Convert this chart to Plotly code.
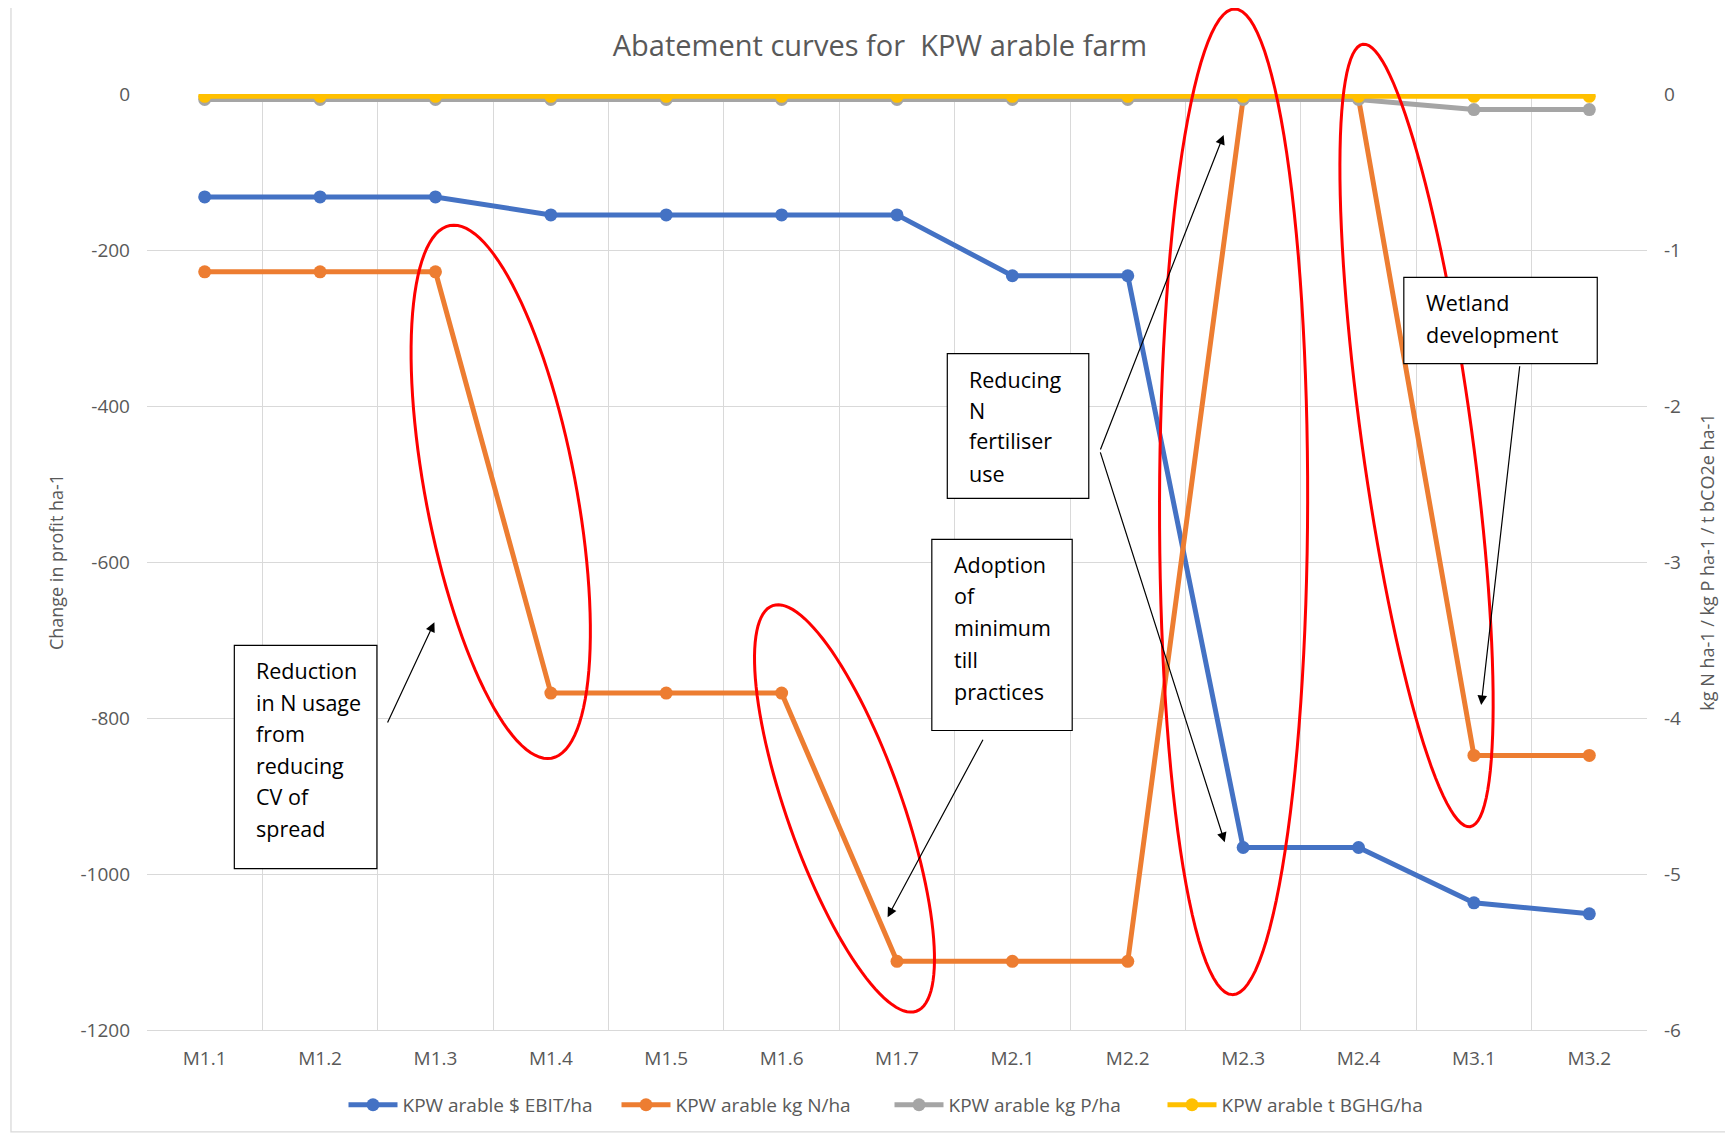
import math
import plotly.graph_objects as go

# ---------------- data ----------------
categories = ["M1.1", "M1.2", "M1.3", "M1.4", "M1.5", "M1.6", "M1.7",
              "M2.1", "M2.2", "M2.3", "M2.4", "M3.1", "M3.2"]
ebit = [-132, -132, -132, -155, -155, -155, -155, -233, -233, -966, -966, -1037, -1051]
kg_n = [-1.14, -1.14, -1.14, -3.84, -3.84, -3.84, -5.56, -5.56, -5.56, -0.03, -0.03, -4.24, -4.24]
kg_p = [-0.035, -0.035, -0.035, -0.035, -0.035, -0.035, -0.035, -0.035, -0.035, -0.035, -0.035, -0.1, -0.1]
t_ghg = [-0.015, -0.015, -0.015, -0.015, -0.015, -0.015, -0.015, -0.015, -0.015, -0.015, -0.015, -0.015, -0.015]
left_ticks = [0, -200, -400, -600, -800, -1000, -1200]
left_labels = ["0", "-200", "-400", "-600", "-800", "-1000", "-1200"]
right_ticks = [0, -1, -2, -3, -4, -5, -6]
right_labels = ["0", "-1", "-2", "-3", "-4", "-5", "-6"]
series_names = ["KPW arable $ EBIT/ha", "KPW arable kg N/ha", "KPW arable kg P/ha", "KPW arable t BGHG/ha"]
series_colors = ["#4472C4", "#ED7D31", "#A5A5A5", "#FFC000"]

# ---------------- layout geometry ----------------
PAGE_OFF = 8                     # default body margin of the html page
WIN_W, WIN_H = 1733, 1136
FW, FH = WIN_W - PAGE_OFF, WIN_H - PAGE_OFF
S = WIN_W / 1568.0
L = 133 * S
R = 1490 * S
T = 85 * S
B = 932 * S
W = R - L
H = B - T

def P(xd, yd):
    """reference-view pixel -> paper coords"""
    return (xd * S - L) / W, (B - yd * S) / H

FONT = "Open Sans"
TXT = "#595959"

fig = go.Figure()
fig.add_trace(go.Scatter(x=categories, y=ebit, name=series_names[0], mode="lines+markers",
                         line=dict(color=series_colors[0], width=5),
                         marker=dict(size=13, color=series_colors[0]), yaxis="y"))
for vals, nm, col in zip([kg_n, kg_p, t_ghg], series_names[1:], series_colors[1:]):
    fig.add_trace(go.Scatter(x=categories, y=vals, name=nm, mode="lines+markers",
                             line=dict(color=col, width=5),
                             marker=dict(size=13, color=col), yaxis="y2"))

shapes = []
annotations = []

# outer chart border
x0, y0 = (11 - L) / W, (B - 6) / H
x1, y1 = (1727 - L) / W, (B - 1132) / H
shapes.append(dict(type="rect", xref="paper", yref="paper", x0=x0, y0=y0, x1=x1, y1=y1,
                   line=dict(color="#D9D9D9", width=1.3), layer="below"))

# red ellipses (top point, bottom point, semi-minor) in reference-view pixels
ellipses = [((407, 204), (499, 686), 68),
            ((699, 548), (829, 915), 52),
            ((1117, 8), (1115, 900), 67),
            ((1233, 40), (1330, 748), 50)]
for (tx, ty), (bx, by), b in ellipses:
    cx, cy = (tx + bx) / 2, (ty + by) / 2
    dx, dy = bx - tx, by - ty
    a = math.hypot(dx, dy) / 2
    ux, uy = dx / (2 * a), dy / (2 * a)
    vx, vy = -uy, ux
    pts = []
    for i in range(121):
        t = 2 * math.pi * i / 120
        px = cx + a * math.cos(t) * ux + b * math.sin(t) * vx
        py = cy + a * math.cos(t) * uy + b * math.sin(t) * vy
        pts.append(P(px, py))
    path = "M " + " L ".join(f"{p[0]:.5f},{p[1]:.5f}" for p in pts) + " Z"
    shapes.append(dict(type="path", xref="paper", yref="paper", path=path,
                       line=dict(color="#FF0000", width=3)))

# text boxes
boxes = [((212, 584, 341, 786), 230, [607, 636, 664, 693, 721, 750],
          ["Reduction", "in N usage", "from", "reducing", "CV of", "spread"]),
         ((857, 320, 985, 451), 875, [343, 371, 399, 428],
          ["Reducing", "N", "fertiliser", "use"]),
         ((843, 488, 970, 661), 861, [511, 539, 568, 597, 626],
          ["Adoption", "of", "minimum", "till", "practices"]),
         ((1270, 251, 1445, 329), 1288, [274, 303],
          ["Wetland", "development"])]
for (bx0, by0, bx1, by1), tx, lys, lines in boxes:
    p0 = P(bx0, by0)
    p1 = P(bx1, by1)
    shapes.append(dict(type="rect", xref="paper", yref="paper", x0=p0[0], y0=p0[1], x1=p1[0], y1=p1[1],
                       line=dict(color="#000000", width=1.2), fillcolor="white"))
    for ly, txt in zip(lys, lines):
        px, py = P(tx, ly)
        annotations.append(dict(xref="paper", yref="paper", x=px, y=py, text=txt, showarrow=False,
                                xanchor="left", yanchor="middle",
                                font=dict(family=FONT, size=21.5, color="#000000")))

# arrows (tail, head)
arrows = [((350, 655), (393, 563)),
          ((890, 668), (803, 830)),
          ((995, 408), (1107, 122)),
          ((995, 408), (1108, 762)),
          ((1375, 330), (1340, 638))]
for (tx, ty), (hx, hy) in arrows:
    hp = P(hx, hy)
    annotations.append(dict(xref="paper", yref="paper", x=hp[0], y=hp[1], text="",
                            showarrow=True, arrowhead=2, arrowsize=1.6, arrowwidth=1.2,
                            arrowcolor="#000000", ax=(tx - hx) * S, ay=(ty - hy) * S,
                            standoff=0, startstandoff=0))

fig.update_layout(
    width=FW, height=FH,
    margin=dict(l=L - PAGE_OFF, r=FW - (R - PAGE_OFF), t=T - PAGE_OFF, b=FH - (B - PAGE_OFF),
                autoexpand=False),
    paper_bgcolor="white", plot_bgcolor="white",
    font=dict(family=FONT, size=19, color=TXT),
    title=dict(text="Abatement curves for  KPW arable farm", x=(880 - PAGE_OFF) / FW,
               y=1 - (46 - PAGE_OFF) / FH,
               xanchor="center", yanchor="middle", xref="container", yref="container",
               font=dict(family=FONT, size=29, color=TXT)),
    xaxis=dict(type="category", range=[-0.5, 12.5], tickson="boundaries", showgrid=True,
               gridcolor="#D9D9D9", gridwidth=1.3, showline=True, linecolor="#D9D9D9", linewidth=1.3,
               ticks="", tickfont=dict(size=19, color=TXT), ticklabelstandoff=11, fixedrange=True),
    yaxis=dict(range=[-1200, 0], tickvals=left_ticks, ticktext=left_labels, showgrid=True,
               gridcolor="#D9D9D9", gridwidth=1.3,
               zeroline=False, showline=False, ticks="", tickfont=dict(size=19, color=TXT),
               ticklabelstandoff=16,
               title=dict(text="Change in profit ha-1", font=dict(size=18, color=TXT), standoff=12)),
    yaxis2=dict(range=[-6, 0], tickvals=right_ticks, ticktext=right_labels, overlaying="y", side="right",
                showgrid=False, zeroline=False, showline=False, ticks="", tickfont=dict(size=19, color=TXT),
                ticklabelstandoff=16,
                title=dict(text="kg N ha-1 / kg P ha-1 / t bCO2e ha-1", font=dict(size=18, color=TXT),
                           standoff=21)),
    legend=dict(orientation="h", x=0.495, y=(B - 1105) / H, xanchor="center", yanchor="middle",
                font=dict(size=19, color=TXT), itemwidth=49, entrywidth=209, entrywidthmode="pixels",
                bgcolor="rgba(0,0,0,0)"),
    showlegend=True,
    shapes=shapes,
    annotations=annotations,
)

fig.write_html("out.html")
